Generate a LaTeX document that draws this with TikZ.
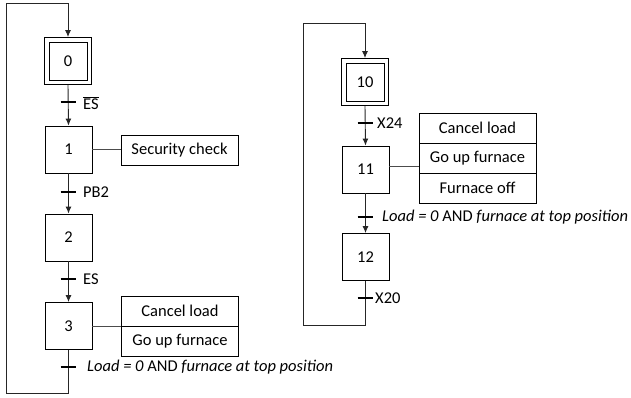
\documentclass[tikz,border=0pt]{standalone}
\usepackage{fontspec}
\setmainfont{Carlito}
\usetikzlibrary{arrows.meta}
\begin{document}
\begin{tikzpicture}[x=1pt,y=-1pt,
  every node/.style={font=\fontsize{16.5}{19}\selectfont},
  stepbox/.style={draw=black, line width=0.9pt, minimum width=47pt, minimum height=47pt, inner sep=0pt},
  innerbox/.style={draw=black, line width=0.9pt, minimum width=38pt, minimum height=38pt, inner sep=0pt},
  actbox/.style={draw=black, line width=0.9pt, minimum width=117pt, minimum height=30pt, inner sep=0pt},
  flow/.style={draw=black!85, line width=0.9pt, -{Latex[length=7pt,width=6pt]}},
  link/.style={draw=black!70, line width=0.8pt},
  tbar/.style={draw=black, line width=2.5pt},
  tlabel/.style={anchor=west, inner sep=0pt}
]
\useasboundingbox (0,0) rectangle (631,398);

% ---------- left chart ----------
\node[stepbox] (s0) at (68,61) {};
\node[innerbox] (s0i) at (s0) {0};
\node[stepbox] (s1) at (68.5,149.5) {1};
\node[stepbox] (s2) at (68.5,237.5) {2};
\node[stepbox] (s3) at (68.5,326) {3};

\coordinate (t0) at (68,102);
\coordinate (t1) at (68,192);
\coordinate (t2) at (68,279);
\coordinate (t3) at (68,367);
\coordinate (lb) at (6,393);
\coordinate (lt) at (6,3);

\node[actbox] (a1) at (179.5,150) {Security check};
\node[actbox] (a3a) at (180,311) {Cancel load};
\node[actbox] (a3b) at (180,341) {Go up furnace};

\draw[flow] (s0.south) -- (s1.north);
\draw[flow] (s1.south) -- (s2.north);
\draw[flow] (s2.south) -- (s3.north);
\draw[flow] (s3.south) |- (lb) -- (lt) -| (s0.north);

\draw[link] (s1.east) -- (s1.east -| a1.west);
\draw[link] (s3.east) -- (s3.east -| a3a.west);

\draw[tbar] ([xshift=-7.5pt]t0) -- ([xshift=7.5pt]t0);
\draw[tbar] ([xshift=-7.5pt]t1) -- ([xshift=7.5pt]t1);
\draw[tbar] ([xshift=-7.5pt]t2) -- ([xshift=7.5pt]t2);
\draw[tbar] ([xshift=-7.5pt]t3) -- ([xshift=7.5pt]t3);

\node[tlabel] (l0) at ([xshift=15pt,yshift=-1pt]t0) {$\overline{\mbox{ES}}$};
\node[tlabel] (l1) at ([xshift=15pt]t1) {PB2};
\node[tlabel] (l2) at ([xshift=15pt]t2) {ES};
\node[tlabel] (l3) at ([xshift=19pt]t3) {\textit{Load = 0} AND \textit{furnace at top position}};

% ---------- right chart ----------
\node[stepbox] (s10) at (365,82) {};
\node[innerbox] (s10i) at (s10) {10};
\node[stepbox] (s11) at (365.5,169.5) {11};
\node[stepbox] (s12) at (365.5,257) {12};

\coordinate (t10) at (365,123);
\coordinate (t11) at (365,217);
\coordinate (t12) at (365,298);
\coordinate (rb) at (303,325);
\coordinate (rt) at (303,23);

\node[actbox] (a11a) at (477.5,128) {Cancel load};
\node[actbox] (a11b) at (477.5,158) {Go up furnace};
\node[actbox] (a11c) at (477.5,188) {Furnace off};

\draw[flow] (s10.south) -- (s11.north);
\draw[flow] (s11.south) -- (s12.north);
\draw[flow] (s12.south) |- (rb) -- (rt) -| (s10.north);

\draw[link] ([yshift=3.5pt]s11.east) -- ([yshift=3.5pt]s11.east -| a11b.west);

\draw[tbar] ([xshift=-7.5pt]t10) -- ([xshift=7.5pt]t10);
\draw[tbar] ([xshift=-7.5pt]t11) -- ([xshift=7.5pt]t11);
\draw[tbar] ([xshift=-7.5pt]t12) -- ([xshift=7.5pt]t12);

\node[tlabel] (l10) at ([xshift=12pt]t10) {X24};
\node[tlabel] (l11) at ([xshift=17pt]t11) {\textit{Load = 0} AND \textit{furnace at top position}};
\node[tlabel] (l12) at ([xshift=10pt]t12) {X20};
\end{tikzpicture}
\end{document}
